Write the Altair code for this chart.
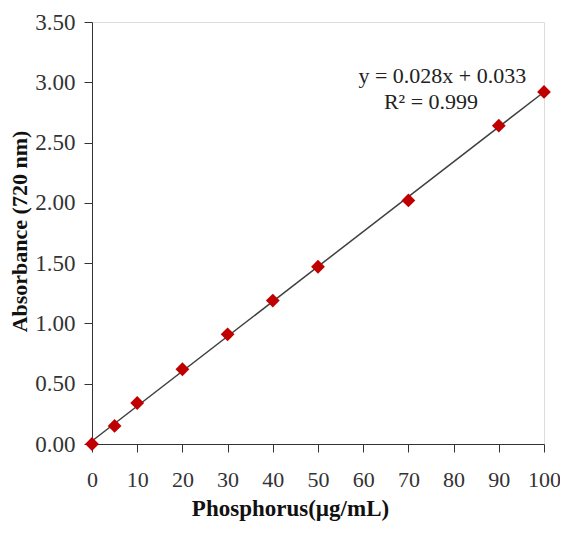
import altair as alt
import pandas as pd

phosphorus = [0, 5, 10, 20, 30, 40, 50, 70, 90, 100]
absorbance = [0.0, 0.15, 0.34, 0.62, 0.91, 1.19, 1.47, 2.02, 2.64, 2.92]

ann_text = ["y = 0.028x + 0.033", "R² = 0.999"]
ann_x = [77.5, 75.0]
ann_y = [3.05, 2.84]

df = pd.DataFrame({"P": phosphorus, "A": absorbance})
ann = pd.DataFrame({"t": ann_text, "x": ann_x, "y": ann_y})

FONT = "Liberation Serif"

xs = alt.Scale(domain=[0, 100], nice=False, zero=True)
ys = alt.Scale(domain=[0, 3.5], nice=False)

xaxis = alt.Axis(values=list(range(0, 101, 10)), title="Phosphorus(µg/mL)",
                 grid=False, labelFont=FONT, labelFontSize=22, labelColor="#333333",
                 titleFont=FONT, titleFontSize=23, titleFontWeight="bold", titleColor="#111111",
                 domainColor="#333333", tickColor="#333333", tickSize=8, labelPadding=17,
                 titlePadding=7, titleX=198, labelOverlap=False, labelBound=False,
                 labelFlush=False)
yaxis = alt.Axis(values=[0, 0.5, 1, 1.5, 2, 2.5, 3, 3.5], format=".2f",
                 title="Absorbance (720 nm)", grid=False, labelFont=FONT, labelFontSize=23,
                 labelColor="#333333", titleFont=FONT, titleFontSize=22,
                 titleFontWeight="bold", titleColor="#111111", domainColor="#333333",
                 tickColor="#333333", tickSize=8, labelPadding=9, titlePadding=3, titleY=209,
                 labelOverlap=False, labelBound=False, labelFlush=False)

base = alt.Chart(df)

line = base.transform_regression("P", "A").mark_line(color="#404040", strokeWidth=1.5).encode(
    x=alt.X("P:Q", scale=xs, axis=xaxis),
    y=alt.Y("A:Q", scale=ys, axis=yaxis),
)

points = base.mark_point(shape="diamond", filled=True, color="#C00000", size=190, opacity=1).encode(
    x=alt.X("P:Q", scale=xs),
    y=alt.Y("A:Q", scale=ys),
)

text = alt.Chart(ann).mark_text(font=FONT, fontSize=22, color="#222222").encode(
    x=alt.X("x:Q", scale=xs),
    y=alt.Y("y:Q", scale=ys),
    text="t:N",
)

chart = alt.layer(line, points, text).properties(
    width=452, height=422,
    autosize=alt.AutoSizeParams(type="none"),
    padding={"left": 84, "top": 14, "right": 16, "bottom": 80},
).configure_view(stroke=None).configure(background="white")

chart.save("out.html", embed_options={"renderer": "svg", "actions": False})
